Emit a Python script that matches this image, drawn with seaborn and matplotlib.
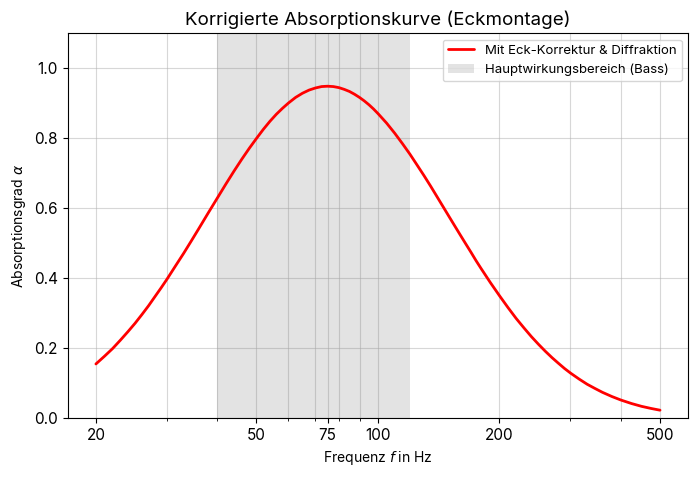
import matplotlib
matplotlib.use("Agg")
import matplotlib.pyplot as plt
import matplotlib.ticker as mticker
import seaborn as sns
import pandas as pd

# values (frequency in Hz, absorption coefficient)
freq = [20, 21, 22, 23, 24, 25, 26, 27, 28, 29, 30, 31.5, 33, 34.5, 36, 38,
        40, 42, 44, 46, 48, 50, 52, 54, 56, 58, 60, 62.5, 65, 67.5, 70,
        72.5, 75, 77.5, 80, 82.5, 85, 87.5, 90, 92.5, 95, 97.5, 100, 105,
        110, 115, 120, 125, 130, 135, 140, 145, 150, 155, 160, 165, 170,
        175, 180, 190, 200, 210, 220, 230, 240, 250, 260, 270, 280, 290,
        300, 315, 330, 345, 360, 380, 400, 425, 450, 475, 500]
alpha = [0.155, 0.177, 0.199, 0.223, 0.247, 0.271, 0.296, 0.321, 0.347,
         0.372, 0.397, 0.435, 0.471, 0.507, 0.542, 0.587, 0.629, 0.669,
         0.706, 0.740, 0.771, 0.799, 0.825, 0.848, 0.868, 0.885, 0.900,
         0.916, 0.928, 0.937, 0.943, 0.947, 0.948, 0.947, 0.944, 0.939,
         0.933, 0.925, 0.916, 0.906, 0.895, 0.883, 0.870, 0.843, 0.814,
         0.784, 0.754, 0.723, 0.693, 0.663, 0.633, 0.604, 0.576, 0.549,
         0.523, 0.498, 0.474, 0.450, 0.428, 0.387, 0.350, 0.316, 0.285,
         0.258, 0.233, 0.211, 0.191, 0.173, 0.157, 0.142, 0.129, 0.112,
         0.097, 0.085, 0.074, 0.062, 0.052, 0.042, 0.034, 0.028, 0.023]
band = (40, 120)
xticks = [20, 50, 75, 100, 200, 500]

df = pd.DataFrame({"f": freq, "alpha": alpha})

sns.set_style("ticks", {"axes.edgecolor": "black", "text.color": "black",
                        "axes.labelcolor": "black", "xtick.color": "black",
                        "ytick.color": "black"})
plt.rcParams["font.family"] = ["Inter", "DejaVu Sans"]
plt.rcParams["mathtext.fontset"] = "dejavusans"

fig, ax = plt.subplots(figsize=(6.98, 4.78), dpi=100)
ax.axvspan(band[0], band[1], color="gray", alpha=0.22, lw=0,
           label="Hauptwirkungsbereich (Bass)")
sns.lineplot(data=df, x="f", y="alpha", ax=ax, color="red", lw=2,
             label="Mit Eck-Korrektur & Diffraktion")

ax.set_xscale("log")
ax.xaxis.set_major_locator(mticker.FixedLocator(xticks))
ax.xaxis.set_major_formatter(mticker.FixedFormatter([str(t) for t in xticks]))
ax.xaxis.set_minor_locator(mticker.LogLocator(base=10, subs=range(2, 10)))
ax.xaxis.set_minor_formatter(mticker.NullFormatter())
ax.set_ylim(0, 1.1)
ax.grid(True, which="both", color="#b0b0b0", alpha=0.5, lw=0.8)
ax.tick_params(labelsize=11)

ax.set_title("Korrigierte Absorptionskurve (Eckmontage)", fontsize=13.5)
ax.set_xlabel(r"Frequenz $f$ in Hz", fontsize=10)
ax.set_ylabel(r"Absorptionsgrad $\alpha$", fontsize=10)

h, l = ax.get_legend_handles_labels()
ax.legend(h[::-1], l[::-1], loc="upper right", fontsize=9.5)

fig.subplots_adjust(left=0.097, right=0.986, top=0.931, bottom=0.125)
fig.savefig("out.png", dpi=100)
